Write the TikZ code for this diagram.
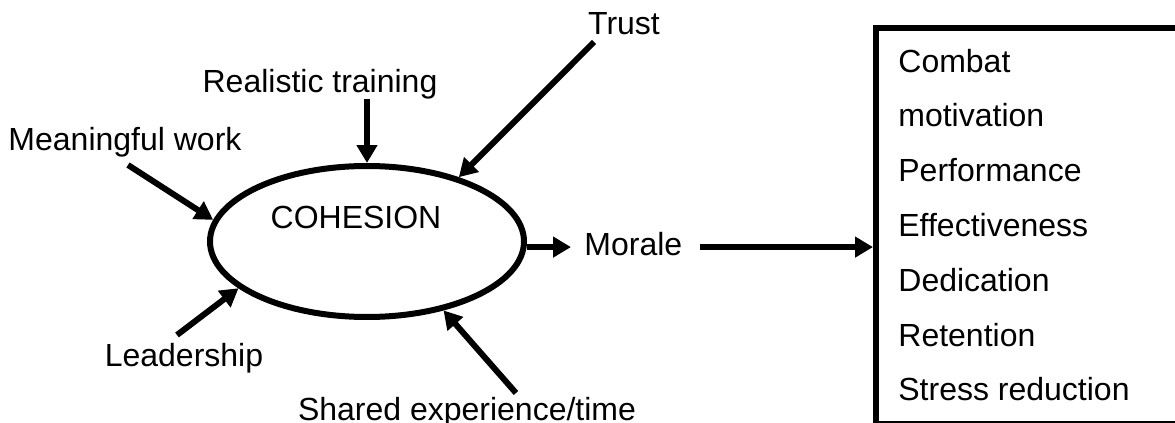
\documentclass[tikz,border=0pt]{standalone}
\usepackage{fontspec}
\setmainfont{Liberation Sans}
\usetikzlibrary{arrows.meta,shapes.geometric}
\begin{document}
\begin{tikzpicture}[x=0.5pt,y=-0.5pt,
  lbl/.style={anchor=base,inner sep=0pt,font=\fontsize{16}{19}\selectfont},
  arr/.style={line width=3pt,-{Triangle[length=9pt,width=10pt]}}]
\useasboundingbox (0,0) rectangle (1175,423);
%central ellipse
\node[draw,ellipse,line width=3pt,minimum width=157pt,minimum height=75.5pt,inner sep=0pt] (coh) at (367,241.5) {};
\node[lbl] (cohtext) at (356,228) {COHESION};
%factors
\node[lbl] (trust) at (624,34) {Trust}; %trust
\node[lbl] (real) at (320,92) {Realistic training}; %training
\node[lbl] (mean) at (125,150) {Meaningful work}; %work
\node[lbl] (lead) at (184,366) {Leadership}; %leadership
\node[lbl] (share) at (467,420) {Shared experience/time}; %shared
\coordinate (trustS) at (594,42);
\coordinate (realS) at (367,99);
\coordinate (meanS) at (128,165);
\coordinate (leadS) at (177,335);
\coordinate (shareS) at (516,393);
\draw[arr] (trustS) -- (coh.35);
\draw[arr] (realS) -- (coh.north);
\draw[arr] (meanS) -- (coh.172);
\draw[arr] (leadS) -- (coh.200);
\draw[arr] (shareS) -- (coh.318);
%morale and outcomes
\node[lbl,anchor=base west] (morale) at (584,255) {Morale};
\node[draw,line width=3pt,anchor=north west,minimum width=162pt,minimum height=198pt,inner sep=0pt] (res) at (873,25) {};
\foreach \txt [count=\i] in {Combat,motivation,Performance,Effectiveness,Dedication,Retention,Stress reduction}
  \node[lbl,anchor=base west] (item\i) at (898,{72+(\i-1)*54.8}) {\txt};
\draw[arr,shorten >=6.5pt] (coh.-2) -- (coh.-2 -| morale.west);
\draw[arr,shorten <=8.5pt] (coh.-2 -| morale.east) -- (coh.-2 -| res.west);
\end{tikzpicture}
\end{document}
